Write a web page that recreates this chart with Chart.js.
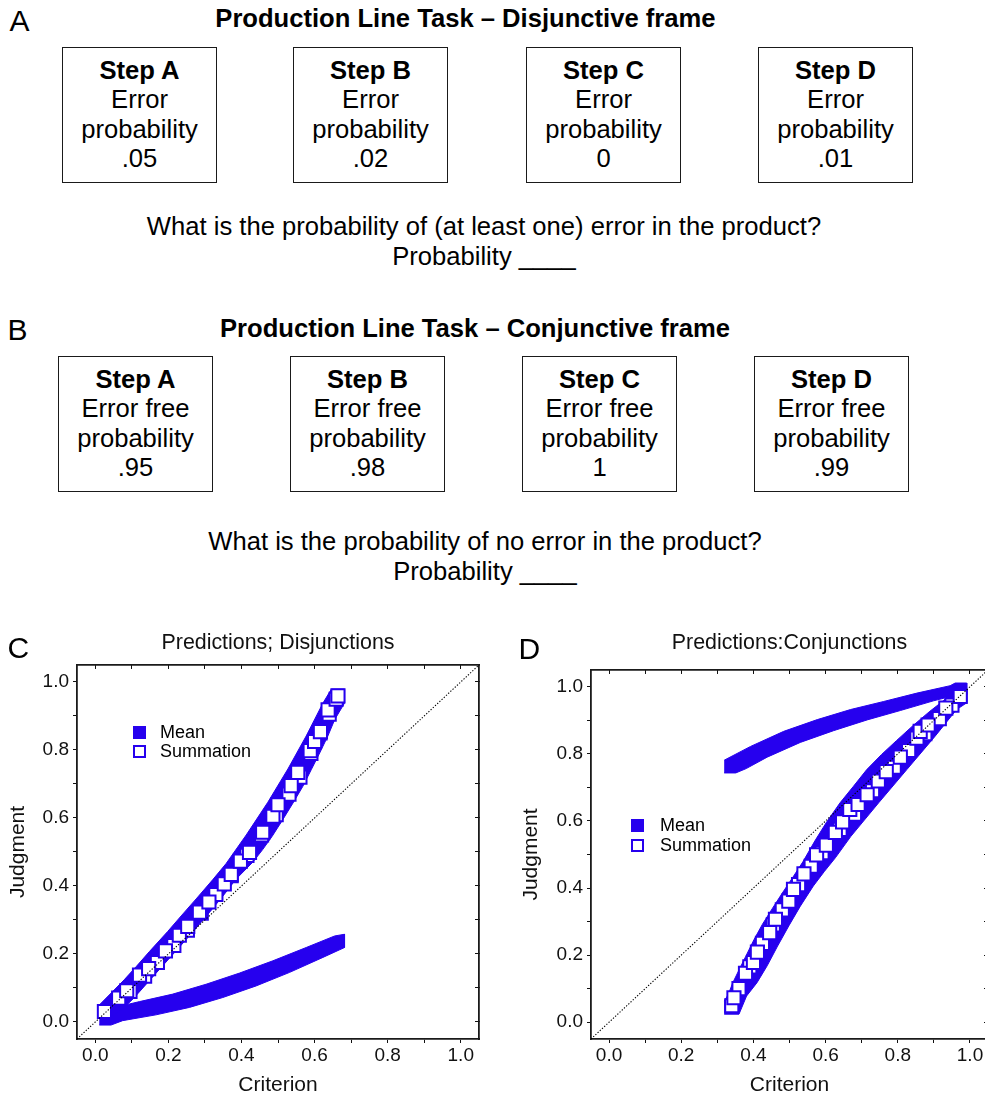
<!DOCTYPE html>
<html lang="en">
<head>
<meta charset="utf-8">
<title>Production line task and predictions</title>
<script src="https://cdn.jsdelivr.net/npm/chart.js@4.4.1/dist/chart.umd.min.js"></script>
<style>
  html, body { margin: 0; padding: 0; background: #fff; }
  body { position: relative; width: 985px; height: 1098px; overflow: hidden;
         font-family: "Liberation Sans", Arial, Helvetica, sans-serif; color: #000; }
  .t { position: absolute; white-space: nowrap; }
  .letter { font-size: 30px; line-height: 30px; }
  .title { font-size: 25.6px; line-height: 30px; font-weight: bold; transform: translateX(-50%); }
  .question { font-size: 25.6px; line-height: 30px; text-align: center; transform: translateX(-50%); }
  .box { position: absolute; width: 155px; height: 136px; box-sizing: border-box;
         border: 1.6px solid #1a1a1a; padding-top: 7.8px; text-align: center;
         font-size: 25.6px; line-height: 29.4px; }
  .box b { display: block; }
  canvas { position: absolute; top: 630px; }
  .swatch { position: absolute; width: 12.5px; height: 12.5px; box-sizing: border-box; }
  .legtext { font-size: 18px; line-height: 20px; }
</style>
</head>
<body>
<canvas id="chartC" width="490" height="468" style="left:0"></canvas>
<canvas id="chartD" width="500" height="468" style="left:495px"></canvas>
<script>
// task panels A and B
const steps = ['Step A', 'Step B', 'Step C', 'Step D'];
const errorProb = ['.05', '.02', '0', '.01'];
const errorFreeProb = ['.95', '.98', '1', '.99'];

// prediction panels C and D
const seriesNames = ['Mean', 'Summation'];
const tickLabels = ['0.0', '0.2', '0.4', '0.6', '0.8', '1.0'];
const axisMin = -0.05, axisMax = 1.0499, tickStep = 0.1;
const diagonal = [[-0.05, -0.05], [1.05, 1.05]];

// C: outline of the cloud of Mean points (upper edge, then lower edge back)
const meanDisj = [
  [0.011, 0.032], [0.043, 0.040], [0.121, 0.060], [0.212, 0.082], [0.303, 0.111],
  [0.395, 0.144], [0.486, 0.180], [0.577, 0.219], [0.655, 0.253], [0.682, 0.258],
  [0.682, 0.219], [0.623, 0.190], [0.532, 0.146], [0.440, 0.106], [0.349, 0.072],
  [0.258, 0.043], [0.166, 0.021], [0.075, 0.004], [0.043, -0.009], [0.011, -0.009]
];
// C: outline of the cloud of Summation points
const sumDisj = [
  [0.011, 0.050], [0.047, 0.089], [0.079, 0.124], [0.112, 0.163], [0.148, 0.207],
  [0.198, 0.266], [0.235, 0.312], [0.276, 0.362], [0.321, 0.418], [0.358, 0.466],
  [0.413, 0.550], [0.472, 0.646], [0.527, 0.744], [0.577, 0.841], [0.623, 0.938],
  [0.646, 0.979], [0.682, 0.979], [0.682, 0.938], [0.655, 0.889], [0.636, 0.840],
  [0.614, 0.791], [0.591, 0.742], [0.568, 0.693], [0.541, 0.644], [0.513, 0.595],
  [0.484, 0.546], [0.458, 0.507], [0.431, 0.470], [0.385, 0.420], [0.349, 0.370],
  [0.303, 0.310], [0.267, 0.265], [0.225, 0.214], [0.180, 0.160], [0.140, 0.112],
  [0.107, 0.072], [0.075, 0.038], [0.041, 0.015], [0.011, 0.015]
];
// C: Summation squares partly hidden, then the ones left uncovered on top
const sumDisjUnder = [
  [0.095, 0.090], [0.135, 0.135], [0.170, 0.175], [0.215, 0.225], [0.252, 0.270],
  [0.290, 0.320], [0.330, 0.375], [0.372, 0.430], [0.415, 0.490], [0.455, 0.550],
  [0.495, 0.610], [0.530, 0.670], [0.560, 0.720], [0.590, 0.790], [0.615, 0.850],
  [0.640, 0.905]
];
const sumDisjTop = [
  [0.025, 0.031], [0.064, 0.070], [0.086, 0.092], [0.121, 0.138], [0.146, 0.157],
  [0.192, 0.209], [0.230, 0.255], [0.253, 0.281], [0.285, 0.323], [0.311, 0.353],
  [0.353, 0.406], [0.372, 0.434], [0.397, 0.473], [0.422, 0.499], [0.458, 0.558],
  [0.486, 0.605], [0.500, 0.639], [0.536, 0.695], [0.554, 0.734], [0.588, 0.798],
  [0.600, 0.825], [0.616, 0.854], [0.637, 0.918], [0.659, 0.949], [0.664, 0.959]
];

// D: outline of the cloud of Mean points
const meanConj = [
  [0.319, 0.781], [0.392, 0.822], [0.484, 0.867], [0.577, 0.902], [0.669, 0.932],
  [0.761, 0.956], [0.853, 0.981], [0.945, 1.003], [0.959, 1.011], [0.991, 1.011],
  [0.991, 0.976], [0.954, 0.973], [0.899, 0.958], [0.807, 0.929], [0.715, 0.901],
  [0.622, 0.869], [0.530, 0.834], [0.438, 0.790], [0.380, 0.756], [0.351, 0.743],
  [0.319, 0.743]
];
// D: outline of the cloud of Summation points
const sumConj = [
  [0.319, 0.063], [0.330, 0.082], [0.343, 0.118], [0.361, 0.158], [0.379, 0.197],
  [0.402, 0.247], [0.425, 0.292], [0.453, 0.340], [0.480, 0.385], [0.508, 0.430],
  [0.537, 0.478], [0.570, 0.540], [0.603, 0.597], [0.640, 0.654], [0.677, 0.703],
  [0.714, 0.753], [0.755, 0.798], [0.797, 0.840], [0.842, 0.884], [0.889, 0.927],
  [0.926, 0.958], [0.959, 0.991], [0.991, 0.991], [0.991, 0.952], [0.963, 0.932],
  [0.903, 0.852], [0.825, 0.753], [0.747, 0.654], [0.670, 0.554], [0.627, 0.490],
  [0.597, 0.450], [0.566, 0.406], [0.530, 0.346], [0.498, 0.287], [0.467, 0.227],
  [0.438, 0.168], [0.410, 0.118], [0.381, 0.078], [0.360, 0.024], [0.319, 0.024]
];
// D: Summation squares partly hidden, then the ones left uncovered on top
const sumConjUnder = [
  [0.360, 0.100], [0.390, 0.165], [0.425, 0.235], [0.455, 0.290], [0.480, 0.335],
  [0.525, 0.410], [0.560, 0.465], [0.590, 0.505], [0.640, 0.575], [0.680, 0.620],
  [0.730, 0.690], [0.790, 0.760], [0.830, 0.810], [0.875, 0.860], [0.915, 0.905],
  [0.950, 0.945]
];
const sumConjTop = [
  [0.340, 0.049], [0.346, 0.073], [0.378, 0.146], [0.400, 0.178], [0.411, 0.209],
  [0.445, 0.267], [0.461, 0.307], [0.498, 0.361], [0.511, 0.396], [0.540, 0.442],
  [0.575, 0.499], [0.602, 0.528], [0.627, 0.566], [0.647, 0.597], [0.667, 0.634],
  [0.690, 0.649], [0.715, 0.678], [0.746, 0.719], [0.768, 0.747], [0.807, 0.790],
  [0.853, 0.847], [0.862, 0.867], [0.884, 0.886], [0.933, 0.936], [0.973, 0.971]
];

const blue = '#2600ee';
const ink = '#111';
const family = '"Liberation Sans", Arial, Helvetica, sans-serif';

function text(cls, html, left, top) {
  const d = document.createElement('div');
  d.className = 't ' + cls;
  d.innerHTML = html;
  d.style.left = left + 'px';
  d.style.top = top + 'px';
  document.body.appendChild(d);
  return d;
}

function boxes(lefts, top, label, values) {
  steps.forEach((s, i) => {
    const b = document.createElement('div');
    b.className = 'box';
    b.style.left = lefts[i] + 'px';
    b.style.top = top + 'px';
    b.innerHTML = '<b>' + s + '</b>' + label + '<br>probability<br>' + values[i];
    document.body.appendChild(b);
  });
}

// panel A
text('letter', 'A', 9.5, 6);
text('title', 'Production Line Task – Disjunctive frame', 465.4, 2.8);
boxes([62, 293, 526, 758], 47, 'Error', errorProb);
text('question', 'What is the probability of (at least one) error in the product?<br>Probability ____', 484, 211.1);

// panel B
text('letter', 'B', 7.5, 315);
text('title', 'Production Line Task – Conjunctive frame', 475, 312.8);
boxes([58, 290, 522, 754], 356, 'Error free', errorFreeProb);
text('question', 'What is the probability of no error in the product?<br>Probability ____', 485, 526.1);

text('letter', 'C', 7.5, 632.5);
text('letter', 'D', 518.5, 633.5);

const xy = list => list.map(([x, y]) => ({x, y}));

function tickText(value) {
  const i = Math.round(value * 10);
  return i % 2 === 0 ? tickLabels[i / 2] : '';
}

function buildScales(box) {
  const base = (axis, position) => ({
    type: 'linear', axis, position, min: axisMin, max: axisMax,
    ticks: { stepSize: tickStep, includeBounds: false, autoSkip: false, maxRotation: 0,
             color: ink, font: { family, size: 19 }, callback: tickText },
    grid: { drawOnChartArea: false, color: ink, lineWidth: 1, tickLength: 4 },
    border: { color: '#1a1a1a', width: 1.8 }
  });
  const x = base('x', 'bottom');
  x.ticks.padding = 1;
  x.title = { display: true, text: 'Criterion', color: ink, font: { family, size: 21 }, padding: 0 };
  x.afterFit = s => { s.height = box.bottom; };
  const y = base('y', 'left');
  y.ticks.padding = 4;
  y.title = { display: true, text: 'Judgment', color: ink, font: { family, size: 21 },
              padding: { top: box.yTitlePad, bottom: 0 } };
  y.afterFit = s => { s.width = box.left; };
  // top and right frame: ticks only, pointing inwards
  const x2 = base('x', 'top');
  x2.ticks.display = false;
  x2.grid.tickLength = -4;
  x2.afterFit = s => { s.height = box.top; };
  const y2 = base('y', 'right');
  y2.ticks.display = false;
  y2.grid.tickLength = -4;
  y2.afterFit = s => { s.width = box.right; };
  return { x, y, x2, y2 };
}

function buildChart(id, titleText, meanCloud, sumCloud, sumSquares, box) {
  return new Chart(document.getElementById(id), {
    type: 'scatter',
    data: {
      datasets: [
        { type: 'line', label: 'y = x', data: xy(diagonal), borderColor: '#000', borderWidth: 1.1,
          borderDash: [1.3, 1.7], pointRadius: 0, fill: false },
        { label: seriesNames[1], data: xy(sumSquares), pointStyle: 'rect', pointRadius: 9.3,
          pointBackgroundColor: '#fff', pointBorderColor: blue, pointBorderWidth: 2 },
        { type: 'line', label: seriesNames[1] + ' (overlapping)', data: xy(sumCloud), fill: 'shape',
          backgroundColor: blue, borderColor: blue, borderWidth: 1, pointRadius: 0, tension: 0 },
        { type: 'line', label: seriesNames[0], data: xy(meanCloud), fill: 'shape',
          backgroundColor: blue, borderColor: blue, borderWidth: 1, pointRadius: 0, tension: 0 }
      ]
    },
    options: {
      responsive: false,
      animation: false,
      events: [],
      layout: { padding: 0, autoPadding: false },
      plugins: {
        legend: { display: false },
        tooltip: { enabled: false },
        title: { display: true, text: titleText, color: ink, fullSize: false,
                 font: { family, size: 21.4, weight: 'normal' }, padding: { top: 0, bottom: 9.3 } }
      },
      scales: buildScales(box)
    }
  });
}

buildChart('chartC', 'Predictions; Disjunctions', meanDisj, sumDisj, sumDisjUnder.concat(sumDisjTop),
  { left: 77, right: 11, top: 0, bottom: 59, yTitlePad: 5.4 });
buildChart('chartD', 'Predictions:Conjunctions', meanConj, sumConj, sumConjUnder.concat(sumConjTop),
  { left: 96, right: 7, top: 5, bottom: 59, yTitlePad: 23.2 });

// legends inside the plot areas
function legend(x, textX, tops) {
  seriesNames.forEach((name, i) => {
    const sw = document.createElement('div');
    sw.className = 'swatch';
    sw.style.left = x + 'px';
    sw.style.top = tops[i] + 'px';
    sw.style.background = i === 0 ? blue : '#fff';
    if (i === 1) sw.style.border = '2px solid ' + blue;
    document.body.appendChild(sw);
    text('legtext', name, textX, tops[i] - 4.4);
  });
}
legend(133, 160, [726, 745]);
legend(631, 660, [819, 839]);
</script>
</body>
</html>
